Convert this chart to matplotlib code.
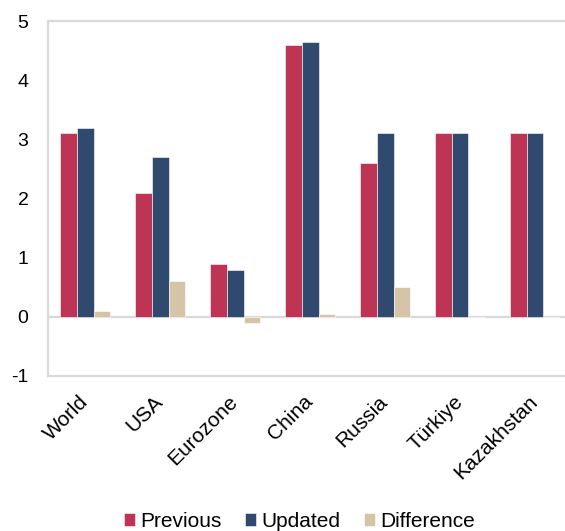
import matplotlib
matplotlib.use("Agg")
import matplotlib.pyplot as plt
import matplotlib.transforms as mtransforms
import numpy as np

plt.rcParams['font.family'] = ['Liberation Sans', 'DejaVu Sans']

categories = ["World", "USA", "Eurozone", "China", "Russia", "Türkiye", "Kazakhstan"]
previous = [3.1, 2.1, 0.9, 4.6, 2.6, 3.1, 3.1]
updated = [3.2, 2.7, 0.8, 4.65, 3.1, 3.1, 3.1]
difference = [0.1, 0.6, -0.1, 0.05, 0.5, 0.0, 0.0]
y_ticks = [-1, 0, 1, 2, 3, 4, 5]

series = [("Previous", previous, "#BE3455"),
          ("Updated", updated, "#2F4A6E"),
          ("Difference", difference, "#D5C4A8")]

fig = plt.figure(figsize=(5.65, 5.31), dpi=100)
ax = fig.add_axes([48 / 565, 155 / 531, 524.5 / 565, 355 / 531])

x = np.arange(len(categories))
width = 2 / 9
handles = []
for i, (name, vals, color) in enumerate(series):
    b = ax.bar(x + (i - 1) * width, vals, width, color=color,
               edgecolor="#FFFFFF", linewidth=0.4, label=name, zorder=2)
    handles.append(b)

ax.set_xlim(-0.5, len(categories) - 0.5)
ax.set_ylim(-1, 5)
ax.set_yticks(y_ticks)
ax.set_yticklabels([str(t) for t in y_ticks])
ax.axhline(0, color="#D9D9D9", linewidth=1.6, zorder=1)

for side in ["left", "top", "bottom", "right"]:
    ax.spines[side].set_color("#D9D9D9")
    ax.spines[side].set_linewidth(1.6)

ax.tick_params(axis="y", length=0, pad=14, labelsize=14)
ax.tick_params(axis="x", length=0, pad=8, labelsize=15)
ax.set_xticks(x)
ax.set_xticklabels(categories, rotation=45, ha="right", va="top",
                   rotation_mode="anchor")

# nudge the slanted category labels a little left and down
shift = mtransforms.ScaledTranslation(-7 / 100, -5 / 100, fig.dpi_scale_trans)
for lbl in ax.get_xticklabels():
    lbl.set_transform(lbl.get_transform() + shift)

leg = fig.legend(handles=handles, loc="lower center", bbox_to_anchor=(0.53, -0.035),
                 ncol=3, frameon=False, fontsize=15, handlelength=0.55,
                 handleheight=0.55, handletextpad=0.25, columnspacing=1.1)

fig.savefig("out.png", dpi=100)
